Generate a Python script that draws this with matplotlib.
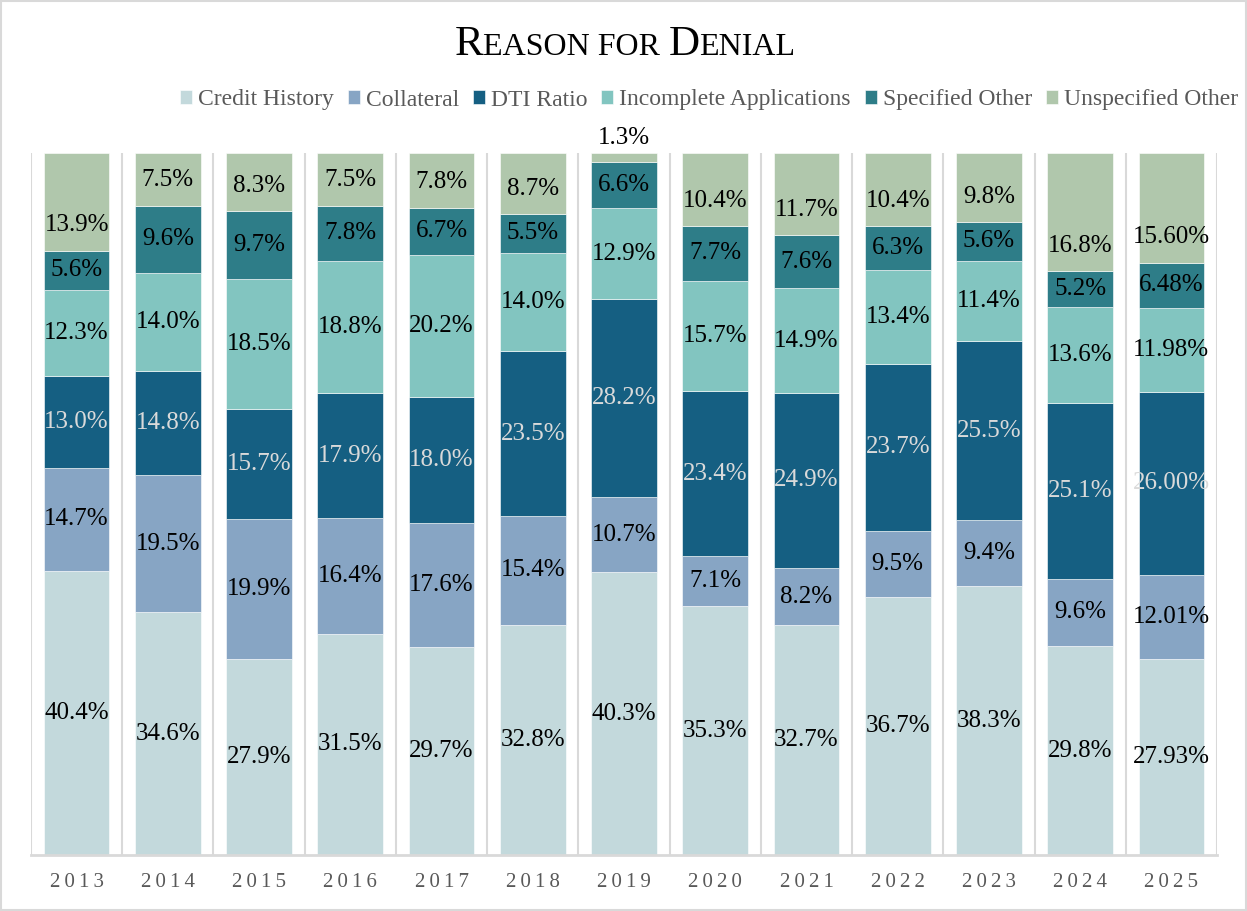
import matplotlib
matplotlib.use("Agg")
import matplotlib.pyplot as plt
import numpy as np
from matplotlib.patches import Rectangle

years = ["2013", "2014", "2015", "2016", "2017", "2018", "2019",
         "2020", "2021", "2022", "2023", "2024", "2025"]
series = ["Credit History", "Collateral", "DTI Ratio",
          "Incomplete Applications", "Specified Other", "Unspecified Other"]

credit_history = [40.4, 34.6, 27.9, 31.5, 29.7, 32.8, 40.3, 35.3, 32.7, 36.7, 38.3, 29.8, 27.93]
collateral = [14.7, 19.5, 19.9, 16.4, 17.6, 15.4, 10.7, 7.1, 8.2, 9.5, 9.4, 9.6, 12.01]
dti_ratio = [13.0, 14.8, 15.7, 17.9, 18.0, 23.5, 28.2, 23.4, 24.9, 23.7, 25.5, 25.1, 26.00]
incomplete = [12.3, 14.0, 18.5, 18.8, 20.2, 14.0, 12.9, 15.7, 14.9, 13.4, 11.4, 13.6, 11.98]
specified_other = [5.6, 9.6, 9.7, 7.8, 6.7, 5.5, 6.6, 7.7, 7.6, 6.3, 5.6, 5.2, 6.48]
unspecified_other = [13.9, 7.5, 8.3, 7.5, 7.8, 8.7, 1.3, 10.4, 11.7, 10.4, 9.8, 16.8, 15.60]
decimals = [1, 1, 1, 1, 1, 1, 1, 1, 1, 1, 1, 1, 2]

colors = ["#C3D9DC", "#87A5C4", "#155F82", "#82C5C0", "#2E7D88", "#B0C7AC"]
label_colors = ["black", "black", "#DADADA", "black", "black", "black"]

plt.rcParams["font.family"] = ["Liberation Serif", "DejaVu Serif"]

data = np.array([credit_history, collateral, dti_ratio, incomplete,
                 specified_other, unspecified_other])
totals = data.sum(axis=0)
pct = data / totals * 100

fig = plt.figure(figsize=(12.47, 9.11), dpi=100)
ax = fig.add_axes([31 / 1247, (911 - 855) / 911, (1217 - 31) / 1247, (855 - 153) / 911])

x = np.arange(len(years))
bottom = np.zeros(len(years))
handles = []
for i, name in enumerate(series):
    bars = ax.bar(x, pct[i], bottom=bottom, width=0.72, color=colors[i],
                  edgecolor="white", linewidth=0.4, label=name, zorder=2)
    handles.append(bars)
    for j in range(len(years)):
        txt = f"{data[i][j]:.{decimals[j]}f}%"
        if i == 5:
            if pct[i][j] < 3:
                y = 102.2
            else:
                # top labels sit low in the segment
                y = bottom[j] + min(pct[i][j] / 2, 3.6)
        else:
            y = bottom[j] + pct[i][j] / 2
        ax.text(x[j], y, txt, ha="center", va="center", fontsize=18,
                color=label_colors[i], zorder=3, clip_on=False)
    bottom += pct[i]

ax.set_xlim(-0.5, len(years) - 0.5)
ax.set_ylim(0, 100)
ax.set_yticks([])
for b in np.arange(-0.5, len(years), 1.0):
    ax.axvline(b, color="#D9D9D9", linewidth=1.5, zorder=1)
for s in ["top", "left", "right"]:
    ax.spines[s].set_visible(False)
ax.spines["bottom"].set_color("#D9D9D9")
ax.spines["bottom"].set_linewidth(2)
ax.set_xticks(x)
ax.set_xticklabels(["\u2009".join(y) for y in years], fontsize=15, color="#595959")
ax.tick_params(axis="x", length=0, pad=13)

ax.legend(handles=handles, loc="center", bbox_to_anchor=(709 / 1247, 1 - 100 / 911),
          bbox_transform=fig.transFigure, ncol=6, frameon=False, fontsize=17,
          labelcolor="#595959", handlelength=0.5, handleheight=0.5,
          handletextpad=0.25, columnspacing=0.6, borderaxespad=0)

# small-caps title
pieces = [("R", 31), ("EASON FOR ", 23), ("D", 31), ("ENIAL", 23)]
fig.canvas.draw()
renderer = fig.canvas.get_renderer()
texts = []
for s, fs in pieces:
    t = fig.text(0, 1 - 55 / 911, s, fontsize=fs, ha="left", va="baseline", color="black")
    texts.append(t)
widths = [t.get_window_extent(renderer).width for t in texts]
total_w = sum(widths)
start = 625 - total_w / 2
for t, w in zip(texts, widths):
    t.set_x(start / 1247)
    start += w

fig.patches.append(Rectangle((0.001, 0.001), 0.998, 0.998, transform=fig.transFigure,
                             fill=False, edgecolor="#D9D9D9", linewidth=1.5))

fig.savefig("out.png", dpi=100)
